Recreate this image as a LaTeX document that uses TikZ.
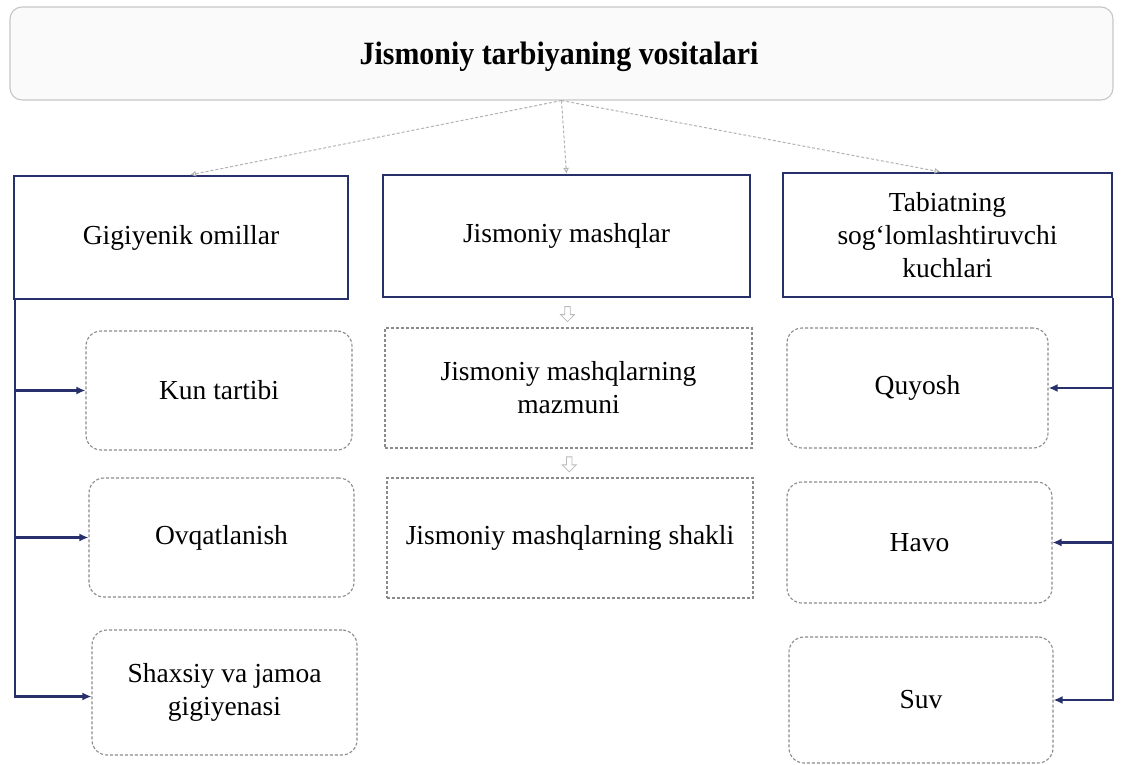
\documentclass[tikz,border=0pt]{standalone}
\usepackage{fontspec}
\setmainfont{Liberation Serif}
\newfontfamily\titlefont{Liberation Serif}[FakeStretch=0.92]
\usetikzlibrary{arrows.meta,shapes.arrows,calc}
\definecolor{navy}{HTML}{27306A}
\definecolor{lgray}{HTML}{8A8A8A}
\tikzset{
  headbox/.style={draw=navy, line width=2.2pt, rectangle, align=center, font=\fontsize{27.5}{33}\selectfont, inner sep=0pt},
  roundbox/.style={draw=lgray, line width=1.1pt, densely dashed, rounded corners=15pt, align=center, font=\fontsize{27.5}{33}\selectfont, inner sep=0pt},
  plainbox/.style={draw=lgray, line width=1.1pt, densely dashed, rectangle, align=center, font=\fontsize{27.5}{33}\selectfont, inner sep=0pt},
  titlebox/.style={draw=gray!45, line width=1.1pt, rounded corners=12pt, fill=gray!4, inner sep=0pt},
  topline/.style={draw=gray!60, line width=1pt, densely dashed, -{Latex[length=6pt,width=6pt,open]}},
  navyarrow/.style={draw=navy, line width=2.2pt, -{Latex[length=9pt,width=8pt]}},
  hollowarrow/.style={single arrow, draw=gray!55, line width=0.8pt, minimum height=15pt, minimum width=14pt, single arrow head extend=2.5pt, inner sep=1.2pt, shape border rotate=270}
}
\begin{document}
\begin{tikzpicture}[x=1pt,y=-1pt]
\useasboundingbox (0,0) rectangle (1124,765);
% title
\node[titlebox, minimum width=1103pt, minimum height=93pt] (title) at (561.5,53.5) {};
\node[font=\titlefont\bfseries\fontsize{32.5}{36}\selectfont] (titletext) at (559,57) {Jismoniy tarbiyaning vositalari};
% headers
\node[headbox, minimum width=334pt, minimum height=123pt] (gig) at (181,237.5) {Gigiyenik omillar};
\node[headbox, minimum width=367pt, minimum height=122pt] (jm) at (566.5,236) {Jismoniy mashqlar};
\node[headbox, minimum width=329pt, minimum height=124pt] (tab) at (947.5,235) {Tabiatning\\sog‘lomlashtiruvchi\\kuchlari};
% left column
\node[roundbox, minimum width=266pt, minimum height=119pt] (kun) at (219,390.5) {Kun tartibi};
\node[roundbox, minimum width=265pt, minimum height=119pt] (ovq) at (221.5,537.5) {Ovqatlanish};
\node[roundbox, minimum width=265pt, minimum height=125pt] (shx) at (224.5,692.5) {Shaxsiy va jamoa\\gigiyenasi};
% centre column
\node[plainbox, minimum width=367pt, minimum height=120pt] (jmm) at (568.5,388) {Jismoniy mashqlarning\\mazmuni};
\node[plainbox, minimum width=366pt, minimum height=120pt] (jms) at (570,538) {Jismoniy mashqlarning shakli};
% right column
\node[roundbox, minimum width=261pt, minimum height=120pt] (quy) at (917.5,388) {Quyosh};
\node[roundbox, minimum width=265pt, minimum height=121pt] (hav) at (919.5,542.5) {Havo};
\node[roundbox, minimum width=264pt, minimum height=126pt] (suv) at (921,700) {Suv};
% connectors from title
\draw[topline] (title.south) -- ($(gig.north)+(9,0)$);
\draw[topline] (title.south) -- (jm.north);
\draw[topline] (title.south) -- ($(tab.north)+(-7,0)$);
% hollow arrows in centre
\node[hollowarrow] (ha1) at ($(jm.south)!0.5!(jmm.north)$) {};
\node[hollowarrow] (ha2) at ($(jmm.south)!0.5!(jms.north)$) {};
% left bracket arrows
\draw[navyarrow] ($(gig.south west)+(2,0)$) |- (kun.west);
\draw[navyarrow] ($(gig.south west)+(2,0)$) |- (ovq.west);
\draw[navyarrow] ($(gig.south west)+(2,0)$) |- ($(shx.west)+(0,4)$);
% right bracket arrows
\draw[navyarrow] (tab.south east) |- (quy.east);
\draw[navyarrow] (tab.south east) |- (hav.east);
\draw[navyarrow] (tab.south east) |- (suv.east);
\end{tikzpicture}
\end{document}
